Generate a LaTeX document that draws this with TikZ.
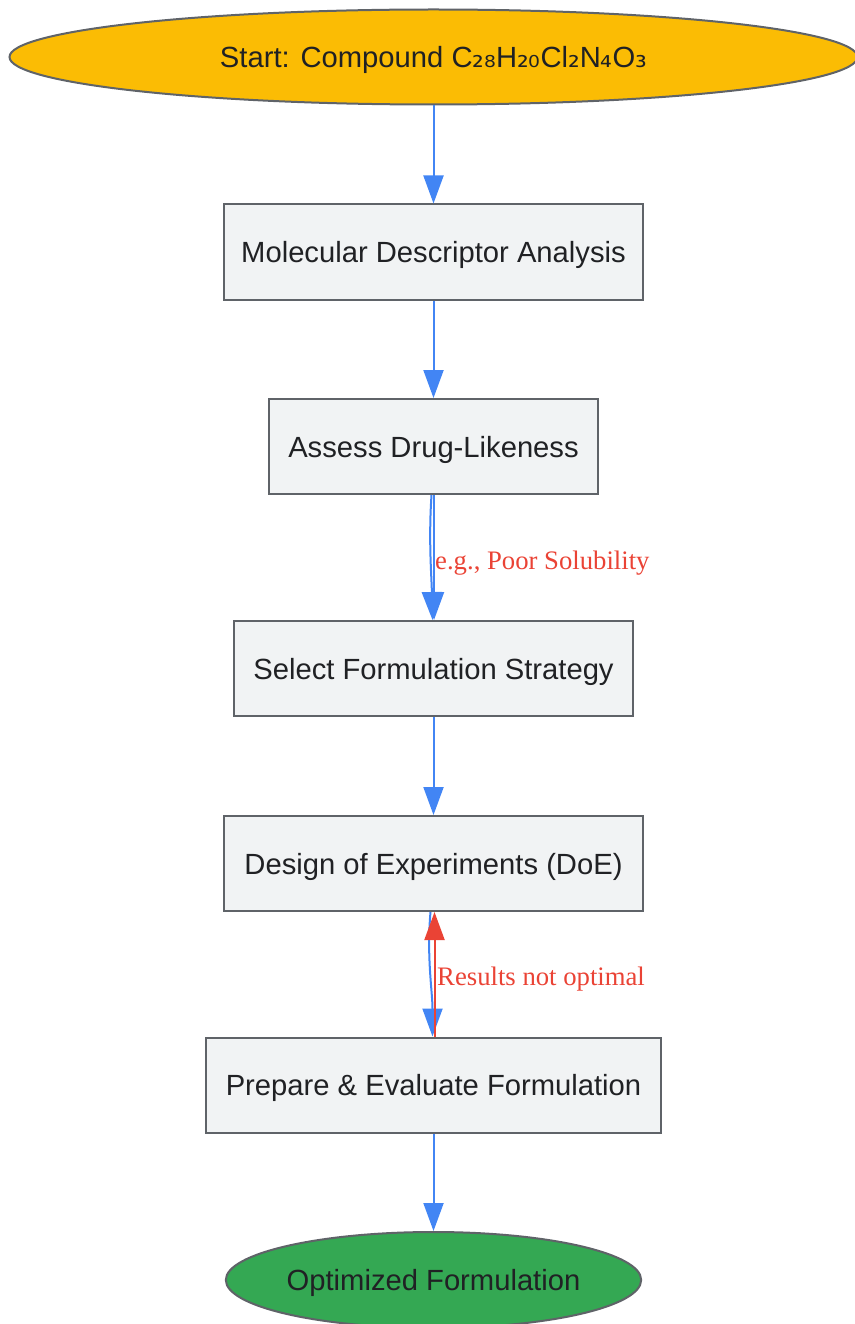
\documentclass[tikz,border=0pt]{standalone}
\usepackage{fontspec}
\setmainfont{Liberation Sans}
\newfontfamily\labelfont{Liberation Serif}
\newfontfamily\subfont{DejaVu Sans}
\usetikzlibrary{arrows.meta,shapes.geometric}
\definecolor{boxfill}{HTML}{F1F3F4}
\definecolor{boxdraw}{HTML}{5F6368}
\definecolor{edgeblue}{HTML}{4285F4}
\definecolor{edgered}{HTML}{EA4335}
\definecolor{startfill}{HTML}{FBBC04}
\definecolor{endfill}{HTML}{34A853}
\definecolor{txt}{HTML}{202124}
\begin{document}
\begin{tikzpicture}[x=1pt,y=-1pt,
  procbox/.style={draw=boxdraw, fill=boxfill, line width=2pt, rectangle, minimum height=95pt, inner sep=0pt, font=\fontsize{29.2}{34}\selectfont, text=txt, text height=21pt, text depth=0pt},
  term/.style={draw=boxdraw, line width=2pt, ellipse, inner sep=0pt, font=\fontsize{29.2}{34}\selectfont, text=txt, text height=21pt, text depth=0pt},
  flow/.style={draw=edgeblue, line width=2pt, -{Triangle[length=28pt,width=20pt]}},
  back/.style={draw=edgered, line width=2pt, -{Triangle[length=28pt,width=20pt]}},
  elabel/.style={text=edgered, font=\labelfont\fontsize{26.7}{30}\selectfont, anchor=west, inner sep=0pt}]
\useasboundingbox (0,0) rectangle (854,1324);
\node[term, fill=startfill, minimum width=848pt, minimum height=95pt] (start) at (433.5,57) {Start: Compound C{\subfont ₂₈}H{\subfont ₂₀}Cl{\subfont ₂}N{\subfont ₄}O{\subfont ₃}};
\node[procbox, minimum width=419pt] (b1) at (433.5,252) {Molecular Descriptor Analysis};
\node[procbox, minimum width=329pt] (b2) at (433.5,446.5) {Assess Drug-Likeness};
\node[procbox, minimum width=399pt] (b3) at (433.5,668.5) {Select Formulation Strategy};
\node[procbox, minimum width=419pt] (b4) at (433.5,863.5) {Design of Experiments (DoE)};
\node[procbox, minimum width=455pt] (b5) at (433.5,1085) {Prepare \& Evaluate Formulation};
\node[term, fill=endfill, minimum width=412pt, minimum height=96pt] (end) at (433.5,1280) {Optimized Formulation};
\draw[flow] (start) -- (b1);
\draw[flow] (b1) -- (b2);
\draw[flow] ([xshift=0.5pt]b2.south) -- ([xshift=0.5pt]b3.north);
\draw[flow] ([xshift=-2pt]b2.south) .. controls +(-3,45) and +(-1,-45) .. ([xshift=-1pt]b3.north);
\node[elabel] (l1) at (435,563) {e.g., Poor Solubility};
\draw[flow] (b3) -- (b4);
\draw[flow] ([xshift=-3pt]b4.south) .. controls +(-4,45) and +(0,-45) .. ([xshift=-1pt]b5.north);
\draw[back] ([xshift=1pt]b5.north) -- ([xshift=1pt]b4.south);
\node[elabel] (l2) at (437,979) {Results not optimal};
\draw[flow] (b5) -- (end);
\end{tikzpicture}
\end{document}
